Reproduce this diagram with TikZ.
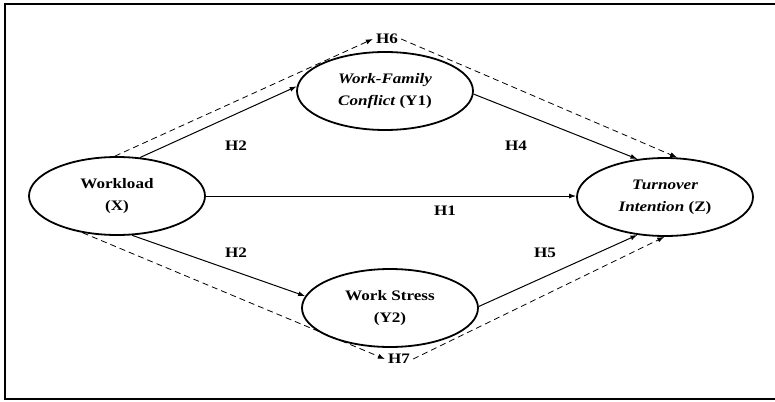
\documentclass[tikz,border=0pt]{standalone}
\usepackage{fontspec}
\usepackage{graphicx}
\setmainfont{Liberation Serif}
\usetikzlibrary{shapes.geometric,arrows.meta}
\newcommand{\hs}[1]{\scalebox{1.18}[1]{#1}}
\begin{document}
\begin{tikzpicture}[x=1pt,y=-1pt,
  var/.style={ellipse,draw,line width=1.8pt,inner sep=0pt,minimum width=176pt,minimum height=78pt,
    align=center,font=\fontsize{14.5}{22}\selectfont\bfseries},
  hlab/.style={font=\fontsize{14.5}{16}\selectfont\bfseries,inner sep=1pt},
  arr/.style={line width=1pt,-{Latex[length=7pt,width=5pt]}},
  darr/.style={line width=0.8pt,dash pattern=on 6pt off 4pt,-{Latex[length=7pt,width=5pt]}}]
\useasboundingbox (0,0) rectangle (775,401);
\draw[line width=2pt] (775,4.5) -- (5,4.5) -- (5,399) -- (775,399);
\node[var] (wl) at (117,196) {\hs{Workload}\\\hs{(X)}};
\node[var] (wfc) at (385,91) {\hs{\itshape Work-Family}\\\hs{{\itshape Conflict} (Y1)}};
\node[var] (ws) at (390,308) {\hs{Work Stress}\\\hs{(Y2)}};
\node[var] (ti) at (665,197) {\hs{\itshape Turnover}\\\hs{{\itshape Intention} (Z)}};
\node[hlab] (h2a) at (236,146) {\hs{H2}};
\node[hlab] (h2b) at (236,253) {\hs{H2}};
\node[hlab] (h1) at (445,211) {\hs{H1}};
\node[hlab] (h4) at (516,146) {\hs{H4}};
\node[hlab] (h5) at (545,253) {\hs{H5}};
\node[hlab,inner sep=3pt] (h6) at (387,39) {\hs{H6}};
\node[hlab,inner sep=3pt] (h7) at (399,359) {\hs{H7}};
\draw[arr] (wl.59) -- (wfc.177);
\draw[arr] (wl.-69) -- (ws.172);
\draw[arr] (wl.east) -- (wl.east -| ti.west);
\draw[arr] (wfc.-2) -- (ti.126);
\draw[arr] (ws.1) -- (ti.-126);
\draw[darr] (wl.93) -- (h6.west);
\draw[darr] (h6.east) -- (ti.73);
\draw[darr] (wl.-133) -- (h7.west);
\draw[darr] (h7.east) -- (ti.-91);
\end{tikzpicture}
\end{document}
